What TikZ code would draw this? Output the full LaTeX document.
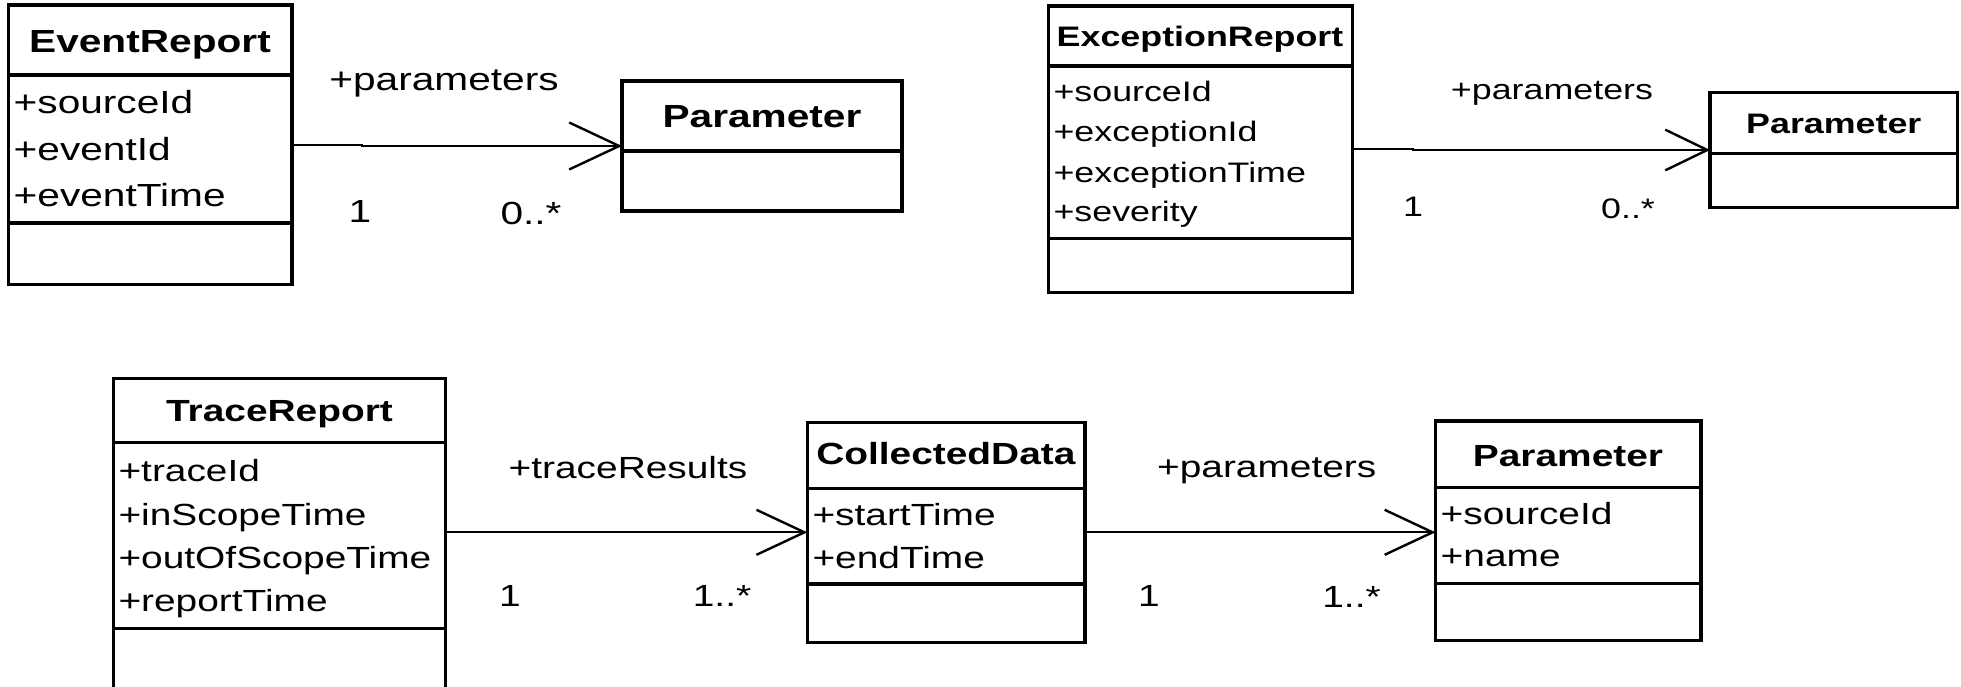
\documentclass[tikz,border=0pt]{standalone}
\usepackage{fontspec}
\setmainfont{Liberation Sans}[FakeStretch=1.27]
\usetikzlibrary{arrows.meta}

\tikzset{
  classbox/.style={draw, line width=3.2pt, inner sep=0pt, outer sep=0pt, anchor=north west},
  compartment/.style={line width=3.2pt},
  ctitle/.style={inner sep=0pt, anchor=base},
  attr/.style={inner sep=0pt, anchor=base west},
  lbl/.style={inner sep=0pt, anchor=base},
  assoc/.style={line width=2.2pt},
}

\begin{document}
\begin{tikzpicture}[x=1pt, y=-1pt, line join=miter]
\useasboundingbox (0,0) rectangle (1961,686);
\clip (0,0) rectangle (1961,686);

% ---------- EventReport -> Parameter ----------
\begin{scope}[font=\fontsize{32pt}{38pt}\selectfont]
  \node[classbox, minimum width=283.5pt, minimum height=279.5pt] (er) at (8.5,5) {};
  \draw[compartment] (er.west |- 0,75) -- (er.east |- 0,75);
  \draw[compartment] (er.west |- 0,223) -- (er.east |- 0,223);
  \node[ctitle] (er-t) at (150,52.3) {\textbf{EventReport}};
  \node[attr] (er-a1) at (13.5,113.3) {+sourceId};
  \node[attr] (er-a2) at (13.5,160.5) {+eventId};
  \node[attr] (er-a3) at (13.5,206) {+eventTime};

  \node[classbox, minimum width=280pt, minimum height=130pt] (p1) at (622,81) {};
  \draw[compartment] (p1.west |- 0,151) -- (p1.east |- 0,151);
  \node[ctitle] (p1-t) at (762,127.7) {\textbf{Parameter}};

  \draw[assoc, -{Straight Barb[length=50pt, width=47pt, line width=2.4pt]}]
    (er.east) -- ++(70,0) |- (p1.west);
  \node[lbl] (l1-role) at (444,90) {+parameters};
  \node[lbl] (l1-src) at (360,222.7) {1};
  \node[lbl] (l1-dst) at (531,224) {0..*};
\end{scope}

% ---------- ExceptionReport -> Parameter ----------
\begin{scope}[font=\fontsize{28.2pt}{34pt}\selectfont]
  \node[classbox, minimum width=304pt, minimum height=286.3pt] (exc) at (1048.3,6) {};
  \draw[compartment] (exc.west |- 0,66) -- (exc.east |- 0,66);
  \draw[compartment] (exc.west |- 0,238.3) -- (exc.east |- 0,238.3);
  \node[ctitle] (exc-t) at (1200,46.7) {\textbf{ExceptionReport}};
  \node[attr] (exc-a1) at (1053.3,101.7) {+sourceId};
  \node[attr] (exc-a2) at (1053.3,141.7) {+exceptionId};
  \node[attr] (exc-a3) at (1053.3,182.7) {+exceptionTime};
  \node[attr] (exc-a4) at (1053.3,221.7) {+severity};

  \node[classbox, minimum width=247.6pt, minimum height=114.6pt] (p2) at (1710,92.7) {};
  \draw[compartment] (p2.west |- 0,153.3) -- (p2.east |- 0,153.3);
  \node[ctitle] (p2-t) at (1833.8,133.3) {\textbf{Parameter}};

  \draw[assoc, -{Straight Barb[length=42pt, width=40.7pt, line width=2.4pt]}]
    (exc.east) -- ++(61,0) |- (p2.west);
  \node[lbl] (l2-role) at (1552,99.3) {+parameters};
  \node[lbl] (l2-src) at (1413,216) {1};
  \node[lbl] (l2-dst) at (1628,218) {0..*};
\end{scope}

% ---------- TraceReport -> CollectedData -> Parameter ----------
\begin{scope}[font=\fontsize{30.6pt}{36pt}\selectfont]
  \node[classbox, minimum width=332.4pt, minimum height=330pt] (tr) at (113.3,378.3) {};
  \draw[compartment] (tr.west |- 0,442.7) -- (tr.east |- 0,442.7);
  \draw[compartment] (tr.west |- 0,628.3) -- (tr.east |- 0,628.3);
  \node[ctitle] (tr-t) at (279.5,421.7) {\textbf{TraceReport}};
  \node[attr] (tr-a1) at (118.3,481.7) {+traceId};
  \node[attr] (tr-a2) at (118.3,525) {+inScopeTime};
  \node[attr] (tr-a3) at (118.3,568.3) {+outOfScopeTime};
  \node[attr] (tr-a4) at (118.3,611.7) {+reportTime};

  \node[classbox, minimum width=277.7pt, minimum height=220pt] (cd) at (807.3,422.3) {};
  \draw[compartment] (cd.west |- 0,488.3) -- (cd.east |- 0,488.3);
  \draw[compartment] (cd.west |- 0,584) -- (cd.east |- 0,584);
  \node[ctitle] (cd-t) at (946,464.3) {\textbf{CollectedData}};
  \node[attr] (cd-a1) at (812.3,525) {+startTime};
  \node[attr] (cd-a2) at (812.3,568.3) {+endTime};

  \node[classbox, minimum width=265.5pt, minimum height=219.7pt] (p3) at (1435.5,421) {};
  \draw[compartment] (p3.west |- 0,487.3) -- (p3.east |- 0,487.3);
  \draw[compartment] (p3.west |- 0,583.3) -- (p3.east |- 0,583.3);
  \node[ctitle] (p3-t) at (1568,466.7) {\textbf{Parameter}};
  \node[attr] (p3-a1) at (1440.5,524) {+sourceId};
  \node[attr] (p3-a2) at (1440.5,566.7) {+name};

  \draw[assoc, -{Straight Barb[length=48pt, width=45pt, line width=2.4pt]}]
    (tr.east |- cd.west) -- (cd.west);
  \node[lbl] (l3-role) at (628,478.3) {+traceResults};
  \node[lbl] (l3-src) at (510,606.7) {1};
  \node[lbl] (l3-dst) at (722,606.7) {1..*};

  \draw[assoc, -{Straight Barb[length=48pt, width=45pt, line width=2.4pt]}]
    (cd.east) -- (cd.east -| p3.west);
  \node[lbl] (l4-role) at (1266.7,477.7) {+parameters};
  \node[lbl] (l4-src) at (1149,606.7) {1};
  \node[lbl] (l4-dst) at (1351.5,607) {1..*};
\end{scope}
\end{tikzpicture}
\end{document}
